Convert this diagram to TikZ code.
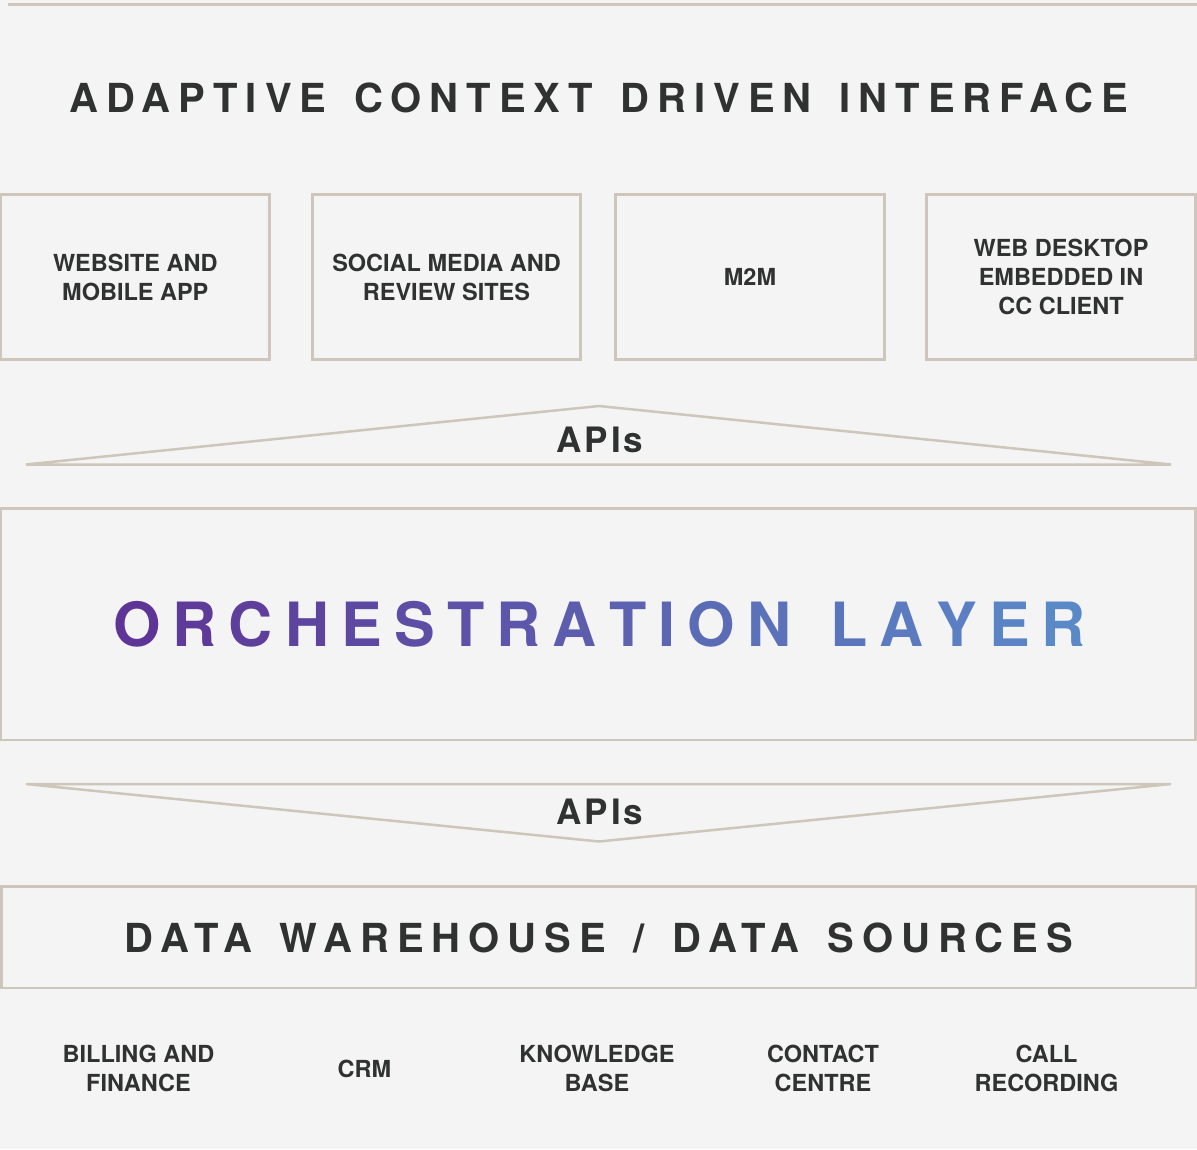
\documentclass[tikz,border=0pt]{standalone}
\usepackage{fontspec}
\setmainfont{TeX Gyre Heros}
\newfontfamily\wideheros[LetterSpace=20,WordSpace=1.45]{TeX Gyre Heros}
\newfontfamily\apiheros[LetterSpace=8]{TeX Gyre Heros}

\definecolor{paper}{RGB}{244,244,244}
\definecolor{rule}{RGB}{206,197,187}
\definecolor{ink}{RGB}{48,50,49}
\definecolor{obeg}{RGB}{94,53,150}
\definecolor{oend}{RGB}{90,137,200}

% one letter of the orchestration title, #1 = share of the end colour,
% followed by the tracking gap
\newcommand\gletter[2]{\textcolor{oend!#1!obeg}{#2}\kern12.2pt}
\newcommand\glast[2]{\textcolor{oend!#1!obeg}{#2}}

\tikzset{
  frame/.style={draw=rule, line width=2.5pt, inner sep=0pt},
  boxtext/.style={font=\fontsize{23.5}{29}\selectfont\bfseries, text=ink, align=center},
  heading/.style={font=\wideheros\fontsize{40}{48}\selectfont\bfseries, text=ink, inner sep=0pt},
  apitext/.style={font=\apiheros\fontsize{35}{42}\selectfont\bfseries, text=ink, inner sep=0pt},
  wedge/.style={draw=rule, line width=2.5pt, line join=miter},
}

\begin{document}
\begin{tikzpicture}[x=1pt,y=-1pt]
  \fill[paper] (0,0) rectangle (1197,1149);
  \useasboundingbox (0,0) rectangle (1197,1149);

  % rule across the top
  \coordinate (ruleL) at (8,4.5);
  \coordinate (ruleR) at (1197,4.5);
  \draw[rule, line width=2.5pt] (ruleL) -- (ruleR);

  % interface heading
  \node[heading] (title) at (599,98) {ADAPTIVE CONTEXT DRIVEN INTERFACE};

  % channel boxes
  \node[frame, boxtext, minimum width=268.5pt, minimum height=165pt] (web) at (135.3,277) {WEBSITE AND\\MOBILE APP};
  \node[frame, boxtext, minimum width=268pt, minimum height=165pt] (social) at (446.5,277) {SOCIAL MEDIA AND\\REVIEW SITES};
  \node[frame, boxtext, minimum width=269pt, minimum height=165pt] (m2m) at (750,277) {M2M};
  \node[frame, boxtext, minimum width=269pt, minimum height=165pt] (desk) at (1061,277) {WEB DESKTOP\\EMBEDDED IN\\CC CLIENT};

  % upper API wedge
  \coordinate (upL) at (26,464.5);
  \coordinate (upT) at (599,406);
  \coordinate (upR) at (1171,464.5);
  \draw[wedge] (upL) -- (upT) -- (upR) -- cycle;
  \node[apitext] (apiUp) at (600,440) {APIs};

  % orchestration layer
  \node[frame, minimum width=1194.5pt, minimum height=231.5pt] (orch) at (598.25,624.25) {};
  \node[font=\fontsize{61}{70}\selectfont\bfseries, inner sep=0pt] (orchText) at (599.5,624)
    {\gletter{0}{O}\gletter{6}{R}\gletter{12}{C}\gletter{18}{H}\gletter{24}{E}\gletter{29}{S}%
     \gletter{35}{T}\gletter{41}{R}\gletter{47}{A}\gletter{53}{T}\gletter{59}{I}\gletter{65}{O}%
     \glast{71}{N}\kern39pt\gletter{76}{L}\gletter{82}{A}\gletter{88}{Y}\gletter{94}{E}\glast{100}{R}};

  % lower API wedge
  \coordinate (dnL) at (26,784);
  \coordinate (dnB) at (599,841.5);
  \coordinate (dnR) at (1171,784);
  \draw[wedge] (dnL) -- (dnR) -- (dnB) -- cycle;
  \node[apitext] (apiDn) at (600,812) {APIs};

  % data warehouse band
  \node[frame, minimum width=1194.5pt, minimum height=101.5pt] (data) at (598.75,937.25) {};
  \node[heading] (dataText) at (599,938.3) {DATA WAREHOUSE / DATA SOURCES};

  % data sources
  \node[boxtext, inner sep=0pt] (billing) at (138.5,1068.5) {BILLING AND\\FINANCE};
  \node[boxtext, inner sep=0pt] (crm) at (364.5,1068.5) {CRM};
  \node[boxtext, inner sep=0pt] (kb) at (597,1068.5) {KNOWLEDGE\\BASE};
  \node[boxtext, inner sep=0pt] (contact) at (823,1068.5) {CONTACT\\CENTRE};
  \node[boxtext, inner sep=0pt] (calls) at (1046.5,1068.5) {CALL\\RECORDING};
\end{tikzpicture}
\end{document}
